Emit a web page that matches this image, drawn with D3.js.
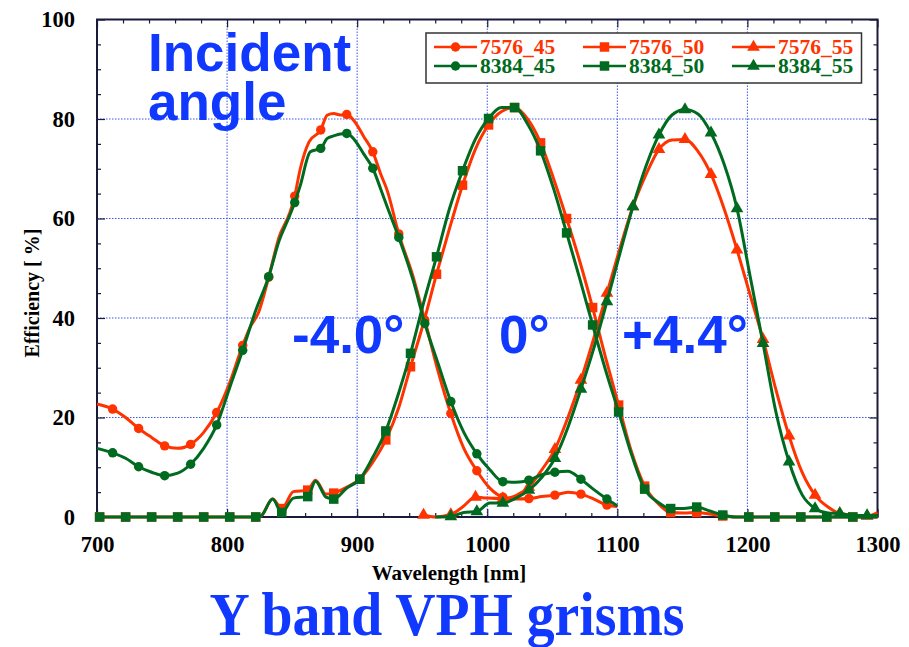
<!DOCTYPE html>
<html>
<head>
<meta charset="utf-8">
<script src="https://cdn.jsdelivr.net/npm/d3@7"></script>
<style>
  body { margin: 0; background: #fff; }
  svg { display: block; }
</style>
</head>
<body>
<svg id="chart" width="909" height="647"></svg>
<script>
// efficiency traces, wavelength [nm] / efficiency [%]
const wl7576_45 = [700,712,722,732,742,752,762,772,782,792,802,812,818,824,832,840,848,852,856,863,872,877,882,887,892,898,905,912,918,923,932,943,952,962,972,982,992,1002,1012,1022,1032,1042,1052,1062,1072,1082,1092,1100];
const ef7576_45 = [22.7,21.7,20.0,17.8,16.0,14.3,13.8,14.6,17.0,21.0,27.0,34.5,38.3,41.0,48.2,56.3,61.0,64.5,69.7,75.4,77.8,80.8,81.1,80.8,80.9,79.5,76.5,73.4,69.0,65.7,56.9,48.3,39.6,29.5,20.8,13.8,9.3,5.8,4.0,3.6,3.7,4.1,4.4,5.0,4.6,3.6,2.4,2.1];
const wl8384_45 = [700,712,722,732,742,752,762,772,782,792,802,812,822,832,840,848,852,856,864,872,877,882,887,892,898,905,912,918,923,932,943,952,962,972,982,992,1002,1012,1022,1032,1042,1052,1062,1072,1082,1092,1100];
const ef8384_45 = [13.8,12.9,11.8,10.1,9.0,8.3,8.8,10.6,13.8,18.5,26.0,33.5,41.5,48.3,55.5,60.5,63.2,66.4,73.4,74.1,76.1,76.6,77.0,77.1,75.8,73.0,70.1,66.0,62.4,56.2,47.6,38.9,31.0,23.2,17.0,12.7,9.5,7.1,7.0,7.4,8.5,9.0,9.2,7.6,5.5,3.6,2.2];
const mk45 = [712,732,752,772,792,812,832,852,872,892,912,932,952,972,992,1012,1032,1052,1072,1092];

const wl50 = [700,702,722,742,762,782,802,822,826,835,842,851,862,868,876,882,892,902,912,922,932,941,951,961,971,981,991,1001,1011,1021,1031,1041,1051,1061,1071,1081,1091,1101,1111,1121,1131,1141,1151,1161,1171,1181,1191,1201,1221,1241,1261,1281,1300];
const ef7576_50 = [0,0,0,0,0,0,0,0,0.2,3.6,1.7,5.1,5.4,7.4,4.6,4.8,6.0,7.6,11.0,15.5,22.0,30.2,39.0,48.8,58.0,66.7,74.0,78.8,81.5,82.3,80.0,75.2,68.0,60.0,51.5,42.1,32.0,22.5,13.0,6.2,2.8,0.9,0.8,0.9,0.6,0.2,0,0,0,0,0,0,0];
const ef8384_50 = [0,0,0,0,0,0,0,0,0.2,3.6,0.9,3.8,4.1,7.2,4.0,3.6,5.8,7.6,12.0,17.3,25.0,32.9,43.0,52.3,62.0,69.6,76.0,80.1,82.3,82.3,79.0,73.6,66.0,57.1,48.0,38.6,29.5,21.1,12.5,5.6,3.0,1.7,1.7,2.0,1.2,0.4,0,0,0,0,0,0,0];
const mk50 = [702,722,742,762,782,802,822,842,862,882,902,922,941,961,981,1001,1021,1041,1061,1081,1101,1121,1141,1161,1181,1201,1221,1241,1261,1281];

const wl7576_55 = [951,960,972,981,991,1000,1012,1022,1032,1042,1052,1062,1072,1082,1092,1102,1112,1122,1132,1142,1152,1162,1172,1182,1192,1202,1212,1222,1232,1242,1252,1262,1271,1282,1292,1300];
const ef7576_55 = [0.4,0,0.5,2.0,4.0,3.8,3.7,4.3,6.0,9.5,13.6,20.0,27.5,36.0,45.0,54.0,62.4,68.8,73.9,75.8,75.9,73.5,68.9,62.0,53.7,44.7,35.7,25.5,16.3,9.0,4.4,2.0,0.7,0.3,0.2,0.9];
const wl8384_55 = [960,972,982,992,1002,1012,1022,1032,1042,1052,1062,1072,1082,1092,1102,1112,1122,1132,1142,1152,1162,1172,1182,1192,1202,1212,1222,1232,1242,1252,1262,1271,1282,1292,1300];
const ef8384_55 = [0,0.1,0.9,1.1,2.8,2.8,3.8,5.4,8.0,11.8,18.0,25.7,34.0,43.3,53.0,62.4,70.5,76.8,80.8,81.9,81.0,77.2,71.0,62.0,48.5,34.9,21.0,11.1,4.5,1.7,0.8,0.7,0.3,0.3,0.3];
const mk55 = [951,972,991,992,1012,1032,1052,1072,1092,1112,1132,1152,1172,1192,1212,1232,1252,1271,1292];

const xMajor = [700,800,900,1000,1100,1200,1300];
const yMajor = [0,20,40,60,80,100];
const angleLabels = ["-4.0°", "0°", "+4.4°"];

const red = "#ff3300";
const green = "#006b20";
const blue = "#1038ff";
const serif = "'Liberation Serif', 'Times New Roman', serif";
const sans = "'Liberation Sans', Arial, sans-serif";

const series = [
  {name: "7576_45", wl: wl7576_45, ef: ef7576_45, mk: mk45, color: red, shape: "circle"},
  {name: "7576_50", wl: wl50, ef: ef7576_50, mk: mk50, color: red, shape: "square"},
  {name: "7576_55", wl: wl7576_55, ef: ef7576_55, mk: mk55, color: red, shape: "triangle"},
  {name: "8384_45", wl: wl8384_45, ef: ef8384_45, mk: mk45, color: green, shape: "circle"},
  {name: "8384_50", wl: wl50, ef: ef8384_50, mk: mk50, color: green, shape: "square"},
  {name: "8384_55", wl: wl8384_55, ef: ef8384_55, mk: mk55, color: green, shape: "triangle"}
];

const svg = d3.select("#chart");
const x = d3.scaleLinear().domain([700, 1300]).range([97, 877.5]);
const y = d3.scaleLinear().domain([0, 100]).range([517, 19.5]);

const symbols = {
  circle: d3.symbol().type(d3.symbolCircle).size(70),
  square: d3.symbol().type(d3.symbolSquare).size(90),
  triangle: d3.symbol().type(d3.symbolTriangle).size(70)
};

// dotted grid
const grid = svg.append("g").attr("stroke", "#3a55e8").attr("stroke-width", 1)
  .attr("stroke-dasharray", "1.5,1.5");
grid.selectAll(".gx").data(xMajor.slice(1, -1)).join("line")
  .attr("x1", d => x(d)).attr("x2", d => x(d))
  .attr("y1", y(100)).attr("y2", y(0));
grid.selectAll(".gy").data(yMajor.slice(1, -1)).join("line")
  .attr("x1", x(700)).attr("x2", x(1300))
  .attr("y1", d => y(d)).attr("y2", d => y(d));

// inward ticks on all four sides
const xMinor = d3.range(700, 1301, 20).filter(v => v % 100);
const yMinor = d3.range(0, 101, 5).filter(v => v % 20);
function tickAxis(gen, scale, vals, size, tr) {
  const a = svg.append("g").attr("transform", tr)
    .call(gen(scale).tickValues(vals).tickSizeInner(-size).tickSizeOuter(0).tickFormat(""));
  a.select(".domain").remove();
  a.selectAll("line").attr("stroke", "#1a1a3a").attr("stroke-width", 1.2);
  return a;
}
tickAxis(d3.axisBottom, x, xMinor, 4, `translate(0,${y(0)})`);
tickAxis(d3.axisTop, x, xMinor, 4, `translate(0,${y(100)})`);
tickAxis(d3.axisLeft, y, yMinor, 4, `translate(${x(700)},0)`);
tickAxis(d3.axisRight, y, yMinor, 4, `translate(${x(1300)},0)`);
tickAxis(d3.axisTop, x, xMajor, 8, `translate(0,${y(100)})`);
tickAxis(d3.axisRight, y, yMajor, 8, `translate(${x(1300)},0)`);

const xAxis = svg.append("g").attr("transform", `translate(0,${y(0)})`)
  .call(d3.axisBottom(x).tickValues(xMajor).tickFormat(d3.format("d"))
    .tickSizeInner(-8).tickSizeOuter(0).tickPadding(19));
const yAxis = svg.append("g").attr("transform", `translate(${x(700)},0)`)
  .call(d3.axisLeft(y).tickValues(yMajor).tickFormat(d3.format("d"))
    .tickSizeInner(-8).tickSizeOuter(0).tickPadding(22));
[xAxis, yAxis].forEach(a => {
  a.select(".domain").remove();
  a.selectAll("line").attr("stroke", "#1a1a3a").attr("stroke-width", 1.2);
  a.selectAll("text").attr("font-family", serif).attr("font-weight", "bold")
    .attr("font-size", 22.5).attr("fill", "#000");
});

// frame
svg.append("rect")
  .attr("x", x(700)).attr("y", y(100))
  .attr("width", x(1300) - x(700)).attr("height", y(0) - y(100))
  .attr("fill", "none").attr("stroke", "#1a1a3a").attr("stroke-width", 2);

// curves + markers
const line = d3.line().x(d => x(d[0])).y(d => y(d[1])).curve(d3.curveMonotoneX);
series.forEach(s => {
  const pts = s.wl.map((w, i) => [w, s.ef[i]]);
  svg.append("path").datum(pts)
    .attr("d", line)
    .attr("fill", "none").attr("stroke", s.color).attr("stroke-width", 3)
    .attr("stroke-linejoin", "round");
  svg.append("g").selectAll("path")
    .data(pts.filter(p => s.mk.includes(p[0])))
    .join("path")
    .attr("d", symbols[s.shape])
    .attr("transform", d => `translate(${x(d[0])},${y(d[1])})`)
    .attr("fill", s.color);
});

// legend
const legend = svg.append("g");
legend.append("rect").attr("x", 426).attr("y", 33).attr("width", 435.5).attr("height", 50)
  .attr("fill", "#fff").attr("stroke", "#333").attr("stroke-width", 1.5);
const colX = [434, 583, 732];
const rowY = [47, 66];
series.forEach((s, i) => {
  const cx = colX[i % 3], cy = rowY[Math.floor(i / 3)];
  legend.append("line").attr("x1", cx).attr("x2", cx + 43).attr("y1", cy).attr("y2", cy)
    .attr("stroke", s.color).attr("stroke-width", 2.5);
  legend.append("path").attr("d", symbols[s.shape])
    .attr("transform", `translate(${cx + 21.5},${cy})`).attr("fill", s.color);
  legend.append("text").attr("x", cx + 46).attr("y", cy + 7)
    .attr("font-family", serif).attr("font-weight", "bold").attr("font-size", 21.5)
    .attr("fill", s.color).text(s.name);
});

// axis titles
svg.append("text").attr("x", 449).attr("y", 580).attr("text-anchor", "middle")
  .attr("font-family", serif).attr("font-weight", "bold").attr("font-size", 21)
  .text("Wavelength [nm]");
svg.append("text").attr("transform", "translate(39,293) rotate(-90)").attr("text-anchor", "middle")
  .attr("font-family", serif).attr("font-weight", "bold").attr("font-size", 20)
  .text("Efficiency [ %]");

// annotations
const note = (txt, tx, ty, size) => svg.append("text").attr("x", tx).attr("y", ty)
  .attr("font-family", sans).attr("font-weight", "bold").attr("font-size", size)
  .attr("fill", blue).text(txt);
note("Incident", 148, 71, 53);
note("angle", 148, 120, 53);
[[292, angleLabels[0]], [499, angleLabels[1]], [622, angleLabels[2]]].forEach(([tx, t]) => note(t, tx, 353, 53));

svg.append("text").attr("x", 447).attr("y", 635).attr("text-anchor", "middle")
  .attr("font-family", serif).attr("font-weight", "bold").attr("font-size", 62)
  .attr("textLength", 475).attr("lengthAdjust", "spacingAndGlyphs")
  .attr("fill", blue).text("Y band VPH grisms");
</script>
</body>
</html>
